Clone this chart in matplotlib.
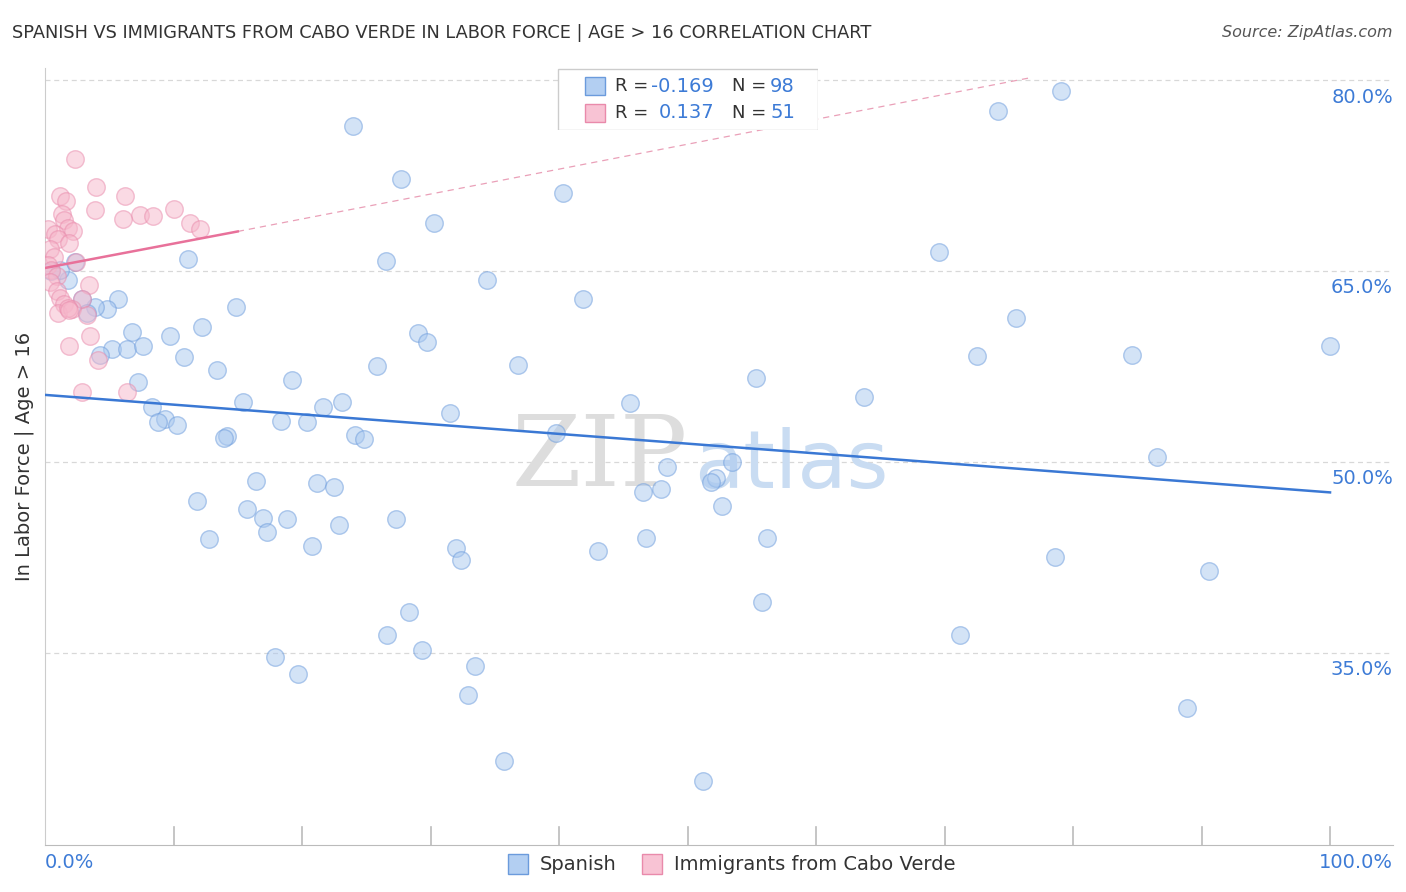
import matplotlib
matplotlib.use('Agg')
import matplotlib.pyplot as plt
from matplotlib.patches import Rectangle

# ── data (x = % Spanish share, y = % in labor force) ─────────────
spanish_x = [24.0, 79.1, 74.2, 27.7, 40.3, 30.3, 69.6, 11.1, 26.5, 34.4, 41.9, 75.6, 14.9,
             5.7, 4.8, 3.9, 2.9, 3.3, 1.8, 1.2, 0.5, 2.3, 12.2, 6.8, 9.7, 29.0, 29.7, 5.2,
             6.4, 7.6, 4.3, 10.8, 25.8, 36.8, 72.5, 84.6, 100.0, 13.4, 7.2, 19.2, 55.3,
             63.7, 15.4, 23.1, 21.6, 8.3, 45.5, 31.5, 9.3, 8.8, 10.3, 18.4, 20.4, 14.2,
             13.9, 24.1, 24.8, 39.8, 86.5, 53.5, 48.4, 52.2, 51.8, 16.4, 21.2, 22.5, 46.5,
             47.9, 11.8, 15.7, 52.7, 17.0, 18.8, 27.3, 22.9, 17.3, 12.8, 46.8, 56.2, 20.8,
             32.0, 32.4, 43.0, 78.6, 90.6, 55.8, 28.3, 26.6, 71.2, 29.3, 17.9, 33.5, 19.7,
             32.9, 88.9, 35.7, 51.2]
spanish_y = [76.4, 79.1, 77.6, 72.2, 71.1, 68.8, 66.5, 65.9, 65.8, 64.3, 62.8, 61.3, 62.2,
             62.8, 62.0, 62.2, 62.8, 61.7, 64.3, 65.1, 65.0, 65.7, 60.6, 60.2, 59.9, 60.1,
             59.4, 58.9, 58.9, 59.1, 58.4, 58.2, 57.5, 57.6, 58.3, 58.4, 59.1, 57.2, 56.3,
             56.4, 56.6, 55.1, 54.7, 54.7, 54.3, 54.3, 54.6, 53.8, 53.4, 53.1, 52.9, 53.2,
             53.1, 52.0, 51.9, 52.1, 51.8, 52.3, 50.4, 50.0, 49.6, 48.7, 48.4, 48.5, 48.3,
             48.0, 47.6, 47.9, 46.9, 46.3, 46.5, 45.6, 45.5, 45.5, 45.0, 44.5, 43.9, 44.0,
             44.0, 43.4, 43.2, 42.3, 43.0, 42.5, 41.4, 39.0, 38.2, 36.4, 36.4, 35.2, 34.7,
             34.0, 33.3, 31.7, 30.7, 26.5, 24.9]
cabo_x = [2.3, 4.0, 6.2, 1.2, 1.6, 3.9, 10.0, 7.4, 8.4, 6.1, 1.3, 1.5, 11.3, 12.1, 1.8, 0.2,
          0.8, 2.2, 1.0, 1.9, 0.4, 0.7, 2.4, 0.2, 0.5, 0.9, 0.4, 3.4, 0.9, 1.2, 2.9, 1.5,
          1.0, 2.1, 1.8, 3.3, 1.9, 3.5, 1.9, 4.1, 2.9, 6.4]
cabo_y = [73.8, 71.6, 70.9, 70.9, 70.5, 69.8, 69.9, 69.4, 69.3, 69.1, 69.5, 69.0, 68.8, 68.3,
          68.4, 68.3, 67.9, 68.1, 67.5, 67.2, 66.7, 66.1, 65.7, 65.5, 65.1, 64.6, 64.1, 63.9,
          63.4, 62.9, 62.8, 62.4, 61.7, 62.0, 62.1, 61.5, 61.9, 59.9, 59.1, 58.0, 55.5, 55.5]
blue_trend = [(0, 55.26), (100, 47.6)]
pink_trend = [(0, 65.23), (15, 68.1)]
pink_dash = [(15, 68.1), (76.6, 80.16)]
y_ticks = [35, 50, 65, 80]

BLUE = '#3a78d4'
PINK = '#e8719a'
LBL = '#3d7bd6'

fig = plt.figure(figsize=(14.06, 8.92), dpi=100)
ax = fig.add_axes([45/1406, 47/892, 1348/1406, 777/892])
ax.set_xlim(0, 104.9)
ax.set_ylim(19.9, 80.94)

for yv in y_ticks:
    ax.axhline(yv, color='#d8d8d8', lw=0.9, ls=(0, (4, 3)), zorder=0)
    ax.text(104.9, yv - 1.34, f'{yv:.1f}%', color=LBL, fontsize=14, ha='right', va='center')

ax.scatter(spanish_x, spanish_y, s=160, facecolor='#a9c8ef', edgecolor='#6b9bdc',
           alpha=0.5, lw=1.0, zorder=3)
ax.scatter(cabo_x, cabo_y, s=160, facecolor='#f6b6ca', edgecolor='#e98aab',
           alpha=0.5, lw=1.0, zorder=3)

ax.plot(*zip(*blue_trend), color=BLUE, lw=1.8, zorder=4)
ax.plot(*zip(*pink_trend), color=PINK, lw=1.8, zorder=4)
ax.plot(*zip(*pink_dash), color='#eaa0b8', lw=0.9, ls=(0, (5, 4)), zorder=2)

for s in ['top', 'right']:
    ax.spines[s].set_visible(False)
ax.spines['left'].set_color('#cccccc')
ax.spines['bottom'].set_color('#bbbbbb')
ax.set_yticks([])
ax.set_xticks([])
for xv in range(10, 101, 10):
    ax.plot([xv, xv], [19.9, 21.3], color='#bbbbbb', lw=1.2, clip_on=False)

ax.set_ylabel('In Labor Force | Age > 16', fontsize=14, color='#333333', labelpad=8)
fig.text(45/1406, 1 - 863/892, '0.0%', color=LBL, fontsize=14, ha='left', va='center')
fig.text(1393/1406, 1 - 863/892, '100.0%', color=LBL, fontsize=14, ha='right', va='center')

ax.text(50, 50.2, 'ZIP', fontsize=72, color='#dddddd', ha='right', va='center',
        fontfamily='serif', zorder=1)
ax.text(50.5, 49.7, 'atlas', fontsize=58, color='#c9dcf2', ha='left', va='center', zorder=1)

fig.text(12/1406, 1 - 33/892, 'SPANISH VS IMMIGRANTS FROM CABO VERDE IN LABOR FORCE | AGE > 16 CORRELATION CHART',
         fontsize=12.8, color='#333333', va='center')
fig.text(1393/1406, 1 - 33/892, 'Source: ZipAtlas.com', fontsize=11.5, color='#555555',
         ha='right', va='center', style='italic')

# top legend
lg = fig.add_axes([557/1406, 1 - 130/892, 261/1406, 62/892])
lg.set_xlim(0, 261); lg.set_ylim(62, 0); lg.axis('off')
lg.add_patch(Rectangle((0.5, 0.5), 260, 61, fc='white', ec='#cccccc', lw=1))
for i, (fc, ec, r, n) in enumerate([('#b3cff2', '#6b9bdc', '-0.169', '98'),
                                     ('#f8c3d4', '#e98aab', '0.137', '51')]):
    yc = 18 + i * 27
    lg.add_patch(Rectangle((28, yc - 9), 20, 18, fc=fc, ec=ec, lw=1))
    lg.text(58, yc, 'R =', fontsize=13, color='#333333', va='center')
    lg.text(157, yc, r, fontsize=14, color=LBL, va='center', ha='right')
    lg.text(175, yc, 'N =', fontsize=13, color='#333333', va='center')
    lg.text(213, yc, n, fontsize=14, color=LBL, va='center')

# bottom legend
for x0, fc, ec, lab in [(508, '#b3cff2', '#6b9bdc', 'Spanish'),
                        (642, '#f8c3d4', '#e98aab', 'Immigrants from Cabo Verde')]:
    fig.patches.append(Rectangle((x0/1406, 1 - 874/892), 20/1406, 20/892, fc=fc, ec=ec,
                                 lw=1, transform=fig.transFigure, figure=fig))
    fig.text((x0 + 32)/1406, 1 - 864/892, lab, fontsize=14, color='#333333', va='center')

fig.savefig('out.png', dpi=100)
